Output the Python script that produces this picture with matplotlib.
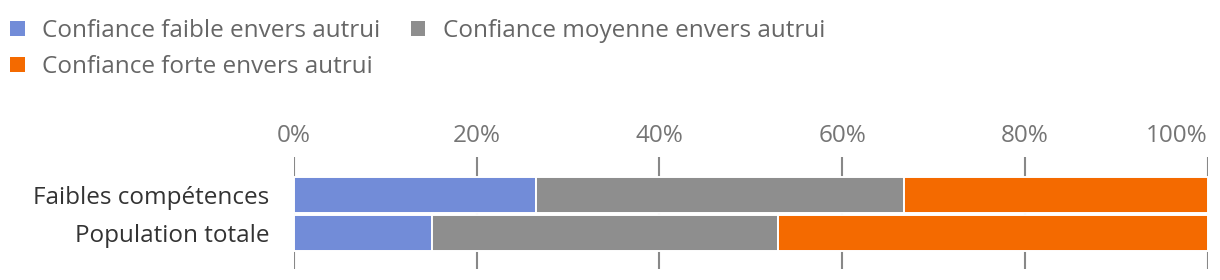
import matplotlib
matplotlib.use('Agg')
import matplotlib.pyplot as plt
from matplotlib.patches import Patch
import numpy as np

# Données (en %)
categories = ['Faibles compétences', 'Population totale']
faible = [26.5, 15.1]
moyenne = [40.3, 37.9]
forte = [33.2, 47.0]
series_labels = ['Confiance faible envers autrui',
                 'Confiance moyenne envers autrui',
                 'Confiance forte envers autrui']
ticks = [0, 20, 40, 60, 80, 100]
tick_labels = ['0%', '20%', '40%', '60%', '80%', '100%']

colors = ['#728cd8', '#8e8e8e', '#f46a00']

plt.rcParams['font.family'] = ['Open Sans', 'DejaVu Sans']
FS = 17.5

W, H = 1220, 280
fig = plt.figure(figsize=(W / 100, H / 100), dpi=100)
ax = fig.add_axes([294 / W, 1 - 269 / H, (1207.5 - 294) / W, (269 - 157) / H])

y = np.arange(len(categories))
left = np.zeros(len(categories))
for vals, col, lab in zip([faible, moyenne, forte], colors, series_labels):
    ax.barh(y, vals, left=left, height=0.94, color=col,
            edgecolor='white', linewidth=1.4, label=lab, zorder=3)
    left += np.array(vals)

ax.set_xlim(0, 100)
ax.set_ylim(1.94, -0.98)
ax.xaxis.tick_top()
ax.set_xticks(ticks)
ax.set_xticklabels(tick_labels, fontsize=FS, color='#757575')
ax.get_xticklabels()[-1].set_ha('right')
ax.set_yticks(y)
ax.set_yticklabels(categories, fontsize=FS, color='#333333')
ax.tick_params(axis='x', length=0, pad=6.5)
ax.tick_params(axis='y', length=0, pad=17.5)
ax.grid(axis='x', color='#888888', linewidth=1.5, zorder=0)
ax.set_axisbelow(True)
for s in ax.spines.values():
    s.set_visible(False)

# Légende : ligne 1 = faible, moyenne ; ligne 2 = forte (remplissage par colonne)
order = [0, 2, 1]
handles = [Patch(facecolor=colors[i], edgecolor='none') for i in order]
labels = [series_labels[i] for i in order]
fig.legend(handles, labels, loc='upper left', bbox_to_anchor=(10 / W, 1 - 19 / H),
           ncol=2, frameon=False, fontsize=FS, labelcolor='#666666',
           handlelength=0.6, handleheight=0.6, handletextpad=0.72,
           labelspacing=0.5, columnspacing=1.25, borderpad=0, borderaxespad=0)

fig.savefig('out.png', dpi=100)
